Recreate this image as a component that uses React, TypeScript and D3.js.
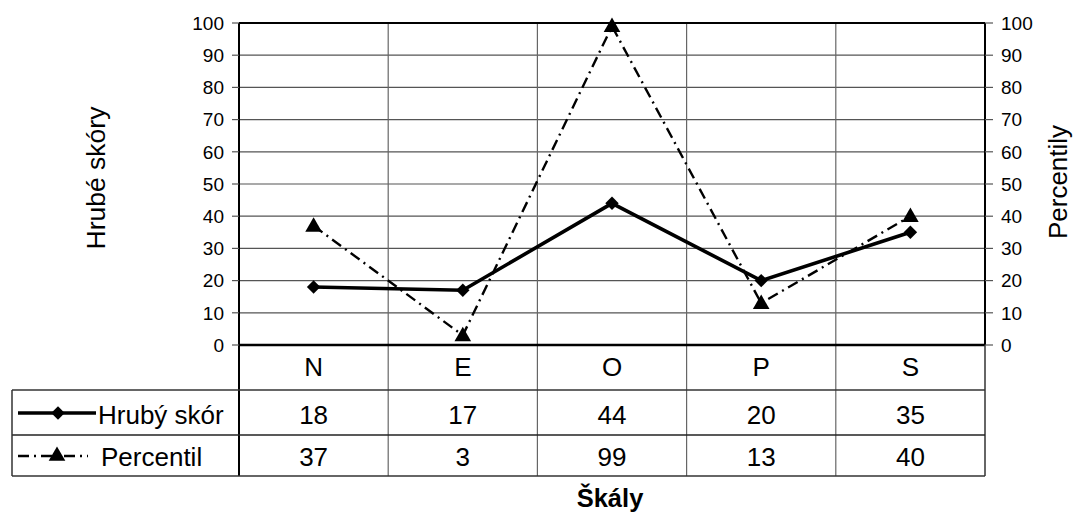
import React from 'react';
import * as d3 from 'd3';

const categories = ['N', 'E', 'O', 'P', 'S'];
const hrubySkor = [18, 17, 44, 20, 35];
const percentil = [37, 3, 99, 13, 40];
const seriesNames = ['Hrubý skór', 'Percentil'];

const W = 1073;
const H = 514;
const left = 239;
const right = 985;
const top = 23;
const bottom = 345;
const row1 = 390; // end of category row
const row2 = 435;
const row3 = 476;
const tableLeft = 12;
const font = 'Arial, "Liberation Sans", Helvetica, sans-serif';
const dashDot = '11,5,2,5';

const App: React.FC = () => {
  const x = d3.scaleBand<string>().domain(categories).range([left, right]).padding(0);
  const yL = d3.scaleLinear().domain([0, 100]).range([bottom, top]);
  const yR = d3.scaleLinear().domain([0, 100]).range([bottom, top]);
  const cx = (c: string) => (x(c) as number) + x.bandwidth() / 2;

  const line = (vals: number[], y: d3.ScaleLinear<number, number>) =>
    d3
      .line<number>()
      .x((_, i) => cx(categories[i]))
      .y((d) => y(d))(vals) as string;

  // Excel style diamond = square turned 45 degrees
  const diamond = d3.symbol().type(d3.symbolSquare).size(90)() as string;
  const triangle = d3.symbol().type(d3.symbolTriangle).size(120)() as string;

  const ticks = yL.ticks(10);
  const bounds = [left, ...categories.map((c) => (x(c) as number) + x.bandwidth())];

  return (
    <div style={{ position: 'absolute', left: 0, top: 0 }}>
      <svg width={W} height={H} style={{ display: 'block', background: '#fff' }} fontFamily={font}>
        {/* horizontal gridlines */}
        {ticks.map((t) => (
          <line key={'g' + t} x1={left} x2={right} y1={yL(t)} y2={yL(t)} stroke="#555" strokeWidth={1.2} />
        ))}
        {/* vertical category separators down through table */}
        {bounds.slice(1, -1).map((b, i) => (
          <line key={'v' + i} x1={b} x2={b} y1={top} y2={row3} stroke="#666" strokeWidth={1.2} />
        ))}
        {/* plot borders */}
        <line x1={left} x2={right} y1={top} y2={top} stroke="#000" strokeWidth={2} />
        <line x1={left} x2={right} y1={bottom} y2={bottom} stroke="#000" strokeWidth={2.4} />
        <line x1={left} x2={left} y1={top} y2={row3} stroke="#000" strokeWidth={2} />
        <line x1={right} x2={right} y1={top} y2={bottom} stroke="#000" strokeWidth={2} />
        <line x1={right} x2={right} y1={bottom} y2={row3} stroke="#333" strokeWidth={1.5} />

        {/* left axis */}
        {ticks.map((t) => (
          <g key={'l' + t}>
            <line x1={left - 7} x2={left} y1={yL(t)} y2={yL(t)} stroke="#555" strokeWidth={1.2} />
            <text x={left - 15} y={yL(t)} dy="0.36em" textAnchor="end" fontSize={19} fill="#000">
              {t}
            </text>
          </g>
        ))}
        {/* right axis */}
        {yR.ticks(10).map((t) => (
          <g key={'r' + t}>
            <line x1={right} x2={right + 8} y1={yR(t)} y2={yR(t)} stroke="#555" strokeWidth={1.2} />
            <text x={right + 16} y={yR(t)} dy="0.36em" textAnchor="start" fontSize={19} fill="#000">
              {t}
            </text>
          </g>
        ))}

        {/* axis titles */}
        <text transform={`translate(105,178) rotate(-90)`} textAnchor="middle" fontSize={26.5}>
          Hrubé skóry
        </text>
        <text transform={`translate(1067,182) rotate(-90)`} textAnchor="middle" fontSize={26}>
          Percentily
        </text>

        {/* series lines */}
        <path d={line(percentil, yR)} fill="none" stroke="#000" strokeWidth={2.4} strokeDasharray={dashDot} />
        <path d={line(hrubySkor, yL)} fill="none" stroke="#000" strokeWidth={3.6} />
        {percentil.map((v, i) => (
          <path key={'t' + i} d={triangle} transform={`translate(${cx(categories[i])},${yR(v) + 1})`} fill="#000" />
        ))}
        {hrubySkor.map((v, i) => (
          <path key={'d' + i} d={diamond} transform={`translate(${cx(categories[i])},${yL(v)}) rotate(45)`} fill="#000" />
        ))}

        {/* data table */}
        <line x1={tableLeft} x2={right} y1={row1} y2={row1} stroke="#333" strokeWidth={1.5} />
        <line x1={tableLeft} x2={right} y1={row2} y2={row2} stroke="#222" strokeWidth={1.5} />
        <line x1={tableLeft} x2={right} y1={row3} y2={row3} stroke="#333" strokeWidth={1.5} />
        <line x1={tableLeft} x2={tableLeft} y1={row1} y2={row3} stroke="#333" strokeWidth={1.5} />

        {categories.map((c) => (
          <text key={'c' + c} x={cx(c)} y={376} textAnchor="middle" fontSize={26}>
            {c}
          </text>
        ))}
        {hrubySkor.map((v, i) => (
          <text key={'h' + i} x={cx(categories[i])} y={424} textAnchor="middle" fontSize={26}>
            {v}
          </text>
        ))}
        {percentil.map((v, i) => (
          <text key={'p' + i} x={cx(categories[i])} y={466} textAnchor="middle" fontSize={26}>
            {v}
          </text>
        ))}

        {/* legend keys in table */}
        <line x1={18} x2={96} y1={413} y2={413} stroke="#000" strokeWidth={3.6} />
        <path d={diamond} transform="translate(58,413) rotate(45)" fill="#000" />
        <text x={98} y={424} fontSize={26}>
          {seriesNames[0]}
        </text>
        <line x1={18} x2={88} y1={456} y2={456} stroke="#000" strokeWidth={2.4} strokeDasharray={dashDot} />
        <path d={triangle} transform="translate(57,456)" fill="#000" />
        <text x={101} y={466} fontSize={26}>
          {seriesNames[1]}
        </text>

        {/* x title */}
        <text x={610} y={507} textAnchor="middle" fontSize={25.5} fontWeight="bold">
          Škály
        </text>
      </svg>
    </div>
  );
};

export default App;
